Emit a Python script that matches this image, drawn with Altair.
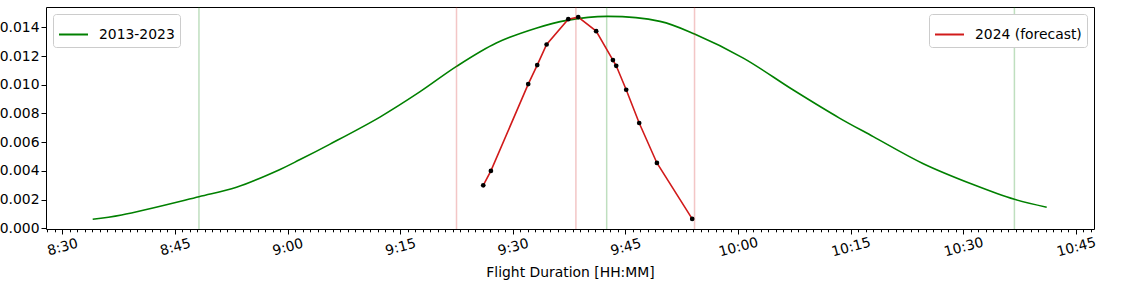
import altair as alt
import pandas as pd

# ---- data (minutes since midnight, densities) ----
green_t = [514.05, 517.9, 528.2, 533.2, 539.0, 541.6, 545.6, 552.3, 557.6, 562.5,
           567.8, 573.2, 577.2, 582.5, 589.6, 594.2, 600.7, 607.3, 613.5, 618.0,
           624.6, 631.3, 636.8, 641.1]
green_v = [0.00063, 0.00093, 0.00220, 0.00286, 0.00410, 0.00477, 0.00585, 0.00775, 0.00950, 0.01128,
           0.01291, 0.01396, 0.01449, 0.01477, 0.01442, 0.01354, 0.01186, 0.00965, 0.00768, 0.00639,
           0.00452, 0.00305, 0.00202, 0.00147]

red_t = [566.06, 567.08, 572.05, 573.25, 574.5, 577.38, 578.71, 581.1, 583.33, 583.77,
         585.1, 586.83, 589.19, 593.89]
red_v = [0.01462, 0.01779, 0.03694, 0.04113, 0.04566, 0.05125, 0.05170, 0.04861, 0.04223, 0.04097,
         0.03569, 0.02836, 0.01955, 0.00722]

green_rules_t = [528.2, 582.5, 636.8]
red_rules_t = [562.5, 578.4, 594.2]

x_major_ticks = list(range(510, 646, 15))
x_minor_ticks = list(range(508, 648))
left_ticks = [0.000, 0.002, 0.004, 0.006, 0.008, 0.010, 0.012, 0.014]
right_ticks = [0.01, 0.02, 0.03, 0.04, 0.05]

series_hist = "2013-2023"
series_fc = "2024 (forecast)"
x_title = "Flight Duration [HH:MM]"

# ---- styles ----
GREEN = "#008000"
RED = "#d11a1a"
FONT = "DejaVu Sans"
FS = 13.9

green_df = pd.DataFrame({"t": green_t, "v": green_v, "series": series_hist})
red_df = pd.DataFrame({"t": red_t, "v": red_v, "series": series_fc})
rules_df = pd.DataFrame({"t": green_rules_t + red_rules_t,
                         "kind": ["hist"] * len(green_rules_t) + ["fc"] * len(red_rules_t)})

xscale = alt.Scale(domain=[507.83, 647.4], nice=False, zero=False)
label_expr = "floor(datum.value / 60) + ':' + (datum.value % 60 < 10 ? '0' : '') + (datum.value % 60)"

legend_common = dict(title=None, offset=7, symbolType="stroke", symbolSize=841,
                     symbolStrokeWidth=2, labelFont=FONT, labelFontSize=FS, labelColor="black",
                     strokeColor="#cccccc", fillColor="white", padding=5, cornerRadius=3,
                     labelOffset=10)

green_line = alt.Chart(green_df).mark_line(strokeWidth=1.6, interpolate="catmull-rom").encode(
    x=alt.X("t:Q", scale=xscale,
            axis=alt.Axis(values=x_major_ticks, labelExpr=label_expr, labelAngle=345,
                          labelAlign="center", labelBaseline="middle", labelPadding=13,
                          tickSize=5, title=x_title, titlePadding=7, orient="bottom",
                          grid=False, domain=False, labelOverlap=False, labelFlush=False)),
    y=alt.Y("v:Q", scale=alt.Scale(domain=[-0.00005, 0.01542], nice=False, zero=False),
            axis=alt.Axis(values=left_ticks, format=".3f", orient="left", tickSize=5,
                          labelPadding=2, grid=False, title=None, domain=False)),
    color=alt.Color("series:N", scale=alt.Scale(domain=[series_hist], range=[GREEN]),
                    legend=alt.Legend(orient="top-left", **legend_common)),
)

rules = alt.Chart(rules_df).mark_rule(strokeWidth=1.5, opacity=0.25).encode(
    x=alt.X("t:Q", scale=xscale,
            axis=alt.Axis(values=x_minor_ticks, labels=False, tickSize=2.8, domain=False,
                          grid=False, title=None, orient="bottom")),
    color=alt.Color("kind:N", scale=alt.Scale(domain=["hist", "fc"], range=[GREEN, RED]),
                    legend=None),
)

red_line = alt.Chart(red_df).mark_line(strokeWidth=1.6).encode(
    x=alt.X("t:Q", scale=xscale, axis=None),
    y=alt.Y("v:Q", scale=alt.Scale(domain=[0.00499, 0.05393], nice=False, zero=False),
            axis=alt.Axis(values=right_ticks, format=".2f", orient="right", tickSize=5,
                          labelPadding=2, grid=False, title=None, domain=False)),
    color=alt.Color("series:N", scale=alt.Scale(domain=[series_fc], range=[RED]),
                    legend=alt.Legend(orient="top-right", **legend_common)),
)
red_pts = alt.Chart(red_df).mark_circle(color="black", size=22, opacity=1).encode(
    x=alt.X("t:Q", scale=xscale, axis=None),
    y=alt.Y("v:Q", axis=None),
)
red_layer = alt.layer(red_line, red_pts)

chart = alt.layer(green_line, rules, red_layer).resolve_scale(
    y="independent", color="independent"
).resolve_axis(
    x="independent", y="independent"
).properties(
    width=1048, height=222,
    autosize=alt.AutoSizeParams(type="none"),
    padding={"left": 46, "top": 7, "right": 42, "bottom": 59},
).configure_view(
    stroke="black", strokeWidth=1
).configure_axis(
    labelFont=FONT, labelFontSize=FS, labelColor="black",
    titleFont=FONT, titleFontSize=FS, titleFontWeight="normal", titleColor="black",
    tickColor="black", tickWidth=1,
)

chart.save("out.html", embed_options={"renderer": "svg", "actions": False})
